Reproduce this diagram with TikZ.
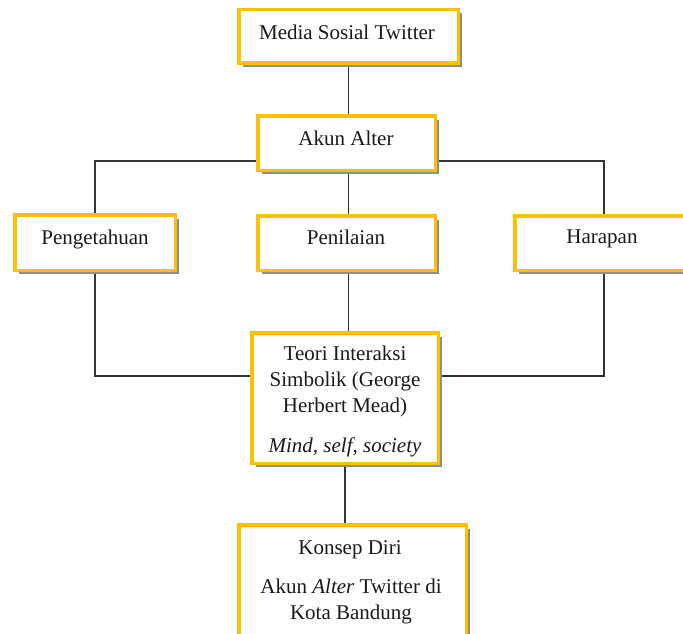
\documentclass[tikz,border=0pt]{standalone}
\usepackage{fontspec}
\setmainfont{Liberation Serif}
\usetikzlibrary{shadows,fit,backgrounds}
\definecolor{boxgold}{HTML}{FFC000}
\definecolor{shadowgray}{HTML}{8E8E8E}
\definecolor{linegray}{HTML}{333333}
\definecolor{txt}{HTML}{1A1A1A}
\pgfdeclarelayer{bgfill}
\pgfsetlayers{bgfill,background,main}
\tikzset{
  box/.style={draw=boxgold, line width=3.5pt, fill=white, rectangle, inner sep=0pt,
    drop shadow={shadow xshift=3.75pt, shadow yshift=-3.75pt, fill=shadowgray, opacity=1}},
  conn/.style={draw=linegray, line width=1.1pt},
  lbl/.style={font=\fontsize{21}{26}\selectfont, text=txt, inner sep=0pt, align=center}
}
\begin{document}
\begin{tikzpicture}[x=1pt,y=-1pt]
\useasboundingbox (0,0) rectangle (683,634);
\begin{pgfonlayer}{bgfill}
\fill[white] (0,0) rectangle (683,634);
\end{pgfonlayer}
\clip (0,0) rectangle (683,634);
% boxes
\node[box, fit={(238.75,9.75) (458.25,63.25)}] (media) {};
\node[box, fit={(257.75,115.75) (435.25,170.25)}] (akun) {};
\node[box, fit={(14.75,214.75) (175.25,270.25)}] (peng) {};
\node[box, fit={(257.75,215.75) (435.25,270.25)}] (penil) {};
\node[box, fit={(514.75,215.75) (693.25,270.25)}] (harap) {};
\node[box, fit={(251.75,332.75) (438.25,463.25)}] (teori) {};
\node[box, fit={(238.75,524.75) (466.25,710)}] (konsep) {};
% connectors
\begin{pgfonlayer}{background}
\draw[conn] (media.south) -- (media.south |- akun.north);
\draw[conn] (media.south |- akun.south) -- (media.south |- penil.north);
\draw[conn] (media.south |- penil.south) -- (media.south |- teori.north);
\draw[conn] (akun.west |- 0,161) -| (peng.north);
\draw[conn] (akun.east |- 0,161) -| (harap.north);
\draw[conn] (peng.south) |- (teori.west |- 0,376);
\draw[conn] (harap.south) |- (teori.east |- 0,376);
\draw[conn] (teori.south) -- (teori.south |- konsep.north);
\end{pgfonlayer}
% texts
\node[lbl] (tmedia) at (347,32) {Media Sosial Twitter};
\node[lbl] (takun) at (346,138) {Akun Alter};
\node[lbl] (tpeng) at (95,239) {Pengetahuan};
\node[lbl] (tpenil) at (346,237) {Penilaian};
\node[lbl] (tharap) at (602,239) {Harapan};
\node[lbl] (tteori) at (345,381) {Teori Interaksi\\Simbolik (George\\Herbert Mead)};
\node[lbl] (tmind) at (345,447) {\textit{Mind, self, society}};
\node[lbl] (tkonsep) at (350,550) {Konsep Diri};
\node[lbl] (takun2) at (351,601) {Akun \textit{Alter} Twitter di\\Kota Bandung};
\end{tikzpicture}
\end{document}
